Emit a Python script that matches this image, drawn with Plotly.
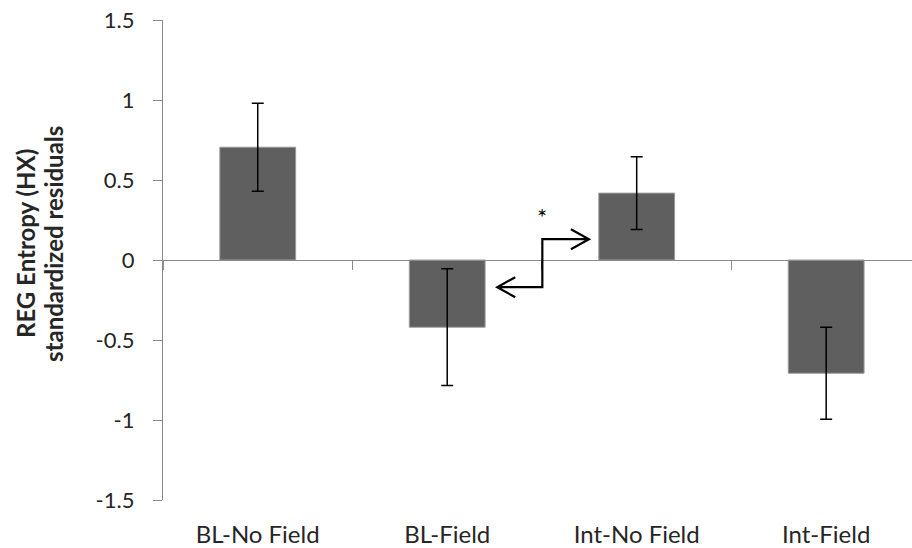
import plotly.graph_objects as go

categories = ["BL-No Field", "BL-Field", "Int-No Field", "Int-Field"]
values = [0.705, -0.42, 0.418, -0.708]
errors = [0.275, 0.365, 0.228, 0.287]
ytick_vals = [-1.5, -1, -0.5, 0, 0.5, 1, 1.5]
ytick_text = ["-1.5", "-1", "-0.5", "0", "0.5", "1", "1.5"]
boundary_ticks = [-0.5, 0.5, 1.5, 2.5, 3.5]
ytitle_lines = ["REG Entropy (HX)", "standardized residuals"]

# significance connector (category-index / value coordinates)
arrow_left_tip = 1.264
arrow_mid_x = 1.502
arrow_right_tip = 1.748
arrow_low_y = -0.17
arrow_high_y = 0.13
head_dx = 0.095
head_dy = 0.0625
star_y = 0.27

XRANGE = [-0.5, 3.453]
FONT = "Lato"
AXIS_GREY = "#8a8a8a"
TEXT = "#262626"

fig = go.Figure()
fig.add_trace(go.Bar(
    x=categories, y=values, width=0.40,
    marker=dict(color="#5f5f5f", line=dict(color="#9a9a9a", width=1)),
    error_y=dict(type="data", array=errors, visible=True, color="black",
                 thickness=1.5, width=6),
    showlegend=False, hoverinfo="skip",
))
# invisible trace on the zero-line axis so it renders
fig.add_trace(go.Scatter(x=[0], y=[0], xaxis="x2", mode="markers",
                         marker=dict(opacity=0), showlegend=False, hoverinfo="skip"))

path = (
    f"M {arrow_left_tip},{arrow_low_y} L {arrow_mid_x},{arrow_low_y} "
    f"L {arrow_mid_x},{arrow_high_y} L {arrow_right_tip},{arrow_high_y} "
    f"M {arrow_left_tip + head_dx},{arrow_low_y + head_dy} L {arrow_left_tip},{arrow_low_y} "
    f"L {arrow_left_tip + head_dx},{arrow_low_y - head_dy} "
    f"M {arrow_right_tip - head_dx},{arrow_high_y + head_dy} L {arrow_right_tip},{arrow_high_y} "
    f"L {arrow_right_tip - head_dx},{arrow_high_y - head_dy}"
)
fig.add_shape(type="path", path=path, xref="x2", yref="y",
              line=dict(color="black", width=2.2))
fig.add_annotation(x=arrow_mid_x, y=star_y, xref="x2", yref="y", text="*",
                   showarrow=False, font=dict(family=FONT, size=24, color="black"))

for line_text, xs in zip(ytitle_lines, [-138, -110]):
    fig.add_annotation(
        x=0, y=0.5, xref="paper", yref="paper", xshift=xs, yshift=16,
        text=f"<b>{line_text}</b>", textangle=-90, showarrow=False,
        xanchor="center", yanchor="middle",
        font=dict(family=FONT, size=24, color=TEXT),
    )

fig.update_layout(
    width=912, height=548,
    margin=dict(l=163, r=0, t=20, b=48),
    paper_bgcolor="white", plot_bgcolor="white",
    xaxis=dict(
        type="category", range=XRANGE, showline=False, showgrid=False,
        zeroline=False, ticks="", tickfont=dict(family=FONT, size=24, color=TEXT),
        ticklabelstandoff=18,
    ),
    xaxis2=dict(
        overlaying="x", anchor="free", position=0.5, range=XRANGE,
        showline=True, linecolor=AXIS_GREY, linewidth=1.3,
        tickmode="array", tickvals=boundary_ticks, showticklabels=False,
        ticks="outside", ticklen=9, tickcolor=AXIS_GREY, tickwidth=1,
        showgrid=False, zeroline=False,
    ),
    yaxis=dict(
        range=[-1.5, 1.5], tickmode="array", tickvals=ytick_vals, ticktext=ytick_text,
        showline=True, linecolor=AXIS_GREY, linewidth=1.3,
        ticks="outside", ticklen=9, tickcolor=AXIS_GREY,
        showgrid=False, zeroline=False,
        tickfont=dict(family=FONT, size=22, color=TEXT),
        ticklabelstandoff=14,
    ),
)

fig.write_html("out.html", config={"displayModeBar": False},
               post_script="document.body.style.margin='0';")
